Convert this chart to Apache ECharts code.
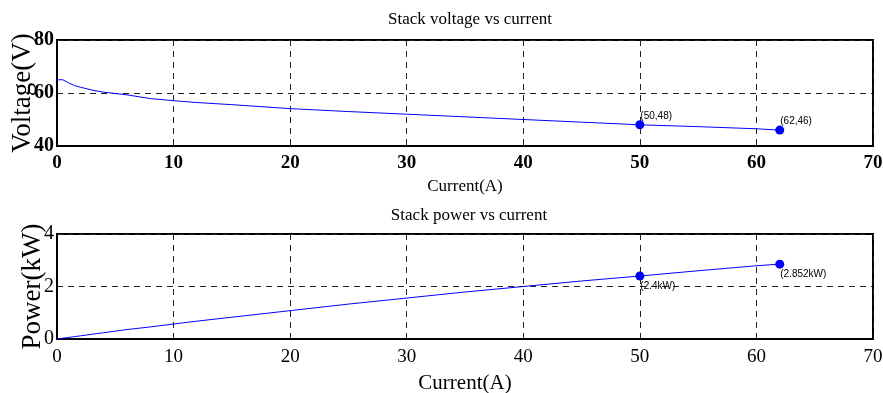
<!DOCTYPE html>
<html>
<head>
<meta charset="utf-8">
<script src="https://cdn.jsdelivr.net/npm/echarts@6/dist/echarts.min.js"></script>
<style>
  html, body { margin: 0; padding: 0; background: #fff; }
  #chart { width: 883px; height: 393px; }
</style>
</head>
<body>
<div id="chart"></div>
<script>
  // values
  var current = [0, 0.5, 1, 1.5, 2, 3, 4, 5, 6, 8, 10, 12, 15, 20, 25, 30, 35, 40, 45, 50, 55, 60, 62];
  var voltage = [65, 65, 63.8, 62.8, 62.2, 61.1, 60.3, 59.8, 59.3, 57.9, 57.1, 56.4, 55.6, 54.1, 53, 52, 51, 50, 49, 48, 47.3, 46.5, 46];
  var power = [0, 0.03, 0.06, 0.09, 0.12, 0.18, 0.24, 0.30, 0.36, 0.46, 0.57, 0.68, 0.83, 1.08, 1.33, 1.56, 1.79, 2.0, 2.21, 2.4, 2.6, 2.79, 2.852];
  var voltageMarks = [[50, 48, '(50,48)'], [62, 46, '(62,46)']];
  var powerMarks = [[50, 2.4, '(2.4kW)'], [62, 2.852, '(2.852kW)']];

  var serif = '"Liberation Serif", "Times New Roman", serif';
  var dashed = { show: true, lineStyle: { color: '#222', type: [6, 5], width: 1 } };

  function pairs(xs, ys) {
    return xs.map(function(x, i) { return [x, ys[i]]; });
  }

  function xAxis(idx, bold, nameSize, nameGap, margin) {
    return {
      gridIndex: idx, type: 'value', min: 0, max: 70, interval: 10,
      name: 'Current(A)', nameLocation: 'middle', nameGap: nameGap, nameMoveOverlap: false,
      nameTextStyle: { fontFamily: serif, fontSize: nameSize, color: '#000' },
      axisLine: { lineStyle: { color: '#000', width: 2 } },
      axisTick: { show: false },
      axisLabel: { fontFamily: serif, fontSize: 19, fontWeight: bold ? 'bold' : 'normal', color: '#000', margin: margin },
      splitLine: dashed
    };
  }

  function yAxis(idx, name, min, max, interval, bold, gap) {
    return {
      gridIndex: idx, type: 'value', min: min, max: max, interval: interval,
      name: name, nameLocation: 'middle', nameGap: gap, nameMoveOverlap: false,
      nameTextStyle: { fontFamily: serif, fontSize: 27, color: '#000' },
      axisLine: { lineStyle: { color: '#000', width: 2 } },
      axisTick: { show: false },
      axisLabel: { fontFamily: serif, fontSize: 20, fontWeight: bold ? 'bold' : 'normal', color: '#000', margin: 3 },
      splitLine: dashed
    };
  }

  function markSeries(idx, marks, dy) {
    return {
      type: 'scatter', xAxisIndex: idx, yAxisIndex: idx,
      symbolSize: 9, itemStyle: { color: '#0000ff', opacity: 1 },
      data: marks.map(function(m) { return { value: [m[0], m[1]], name: m[2] }; }),
      label: {
        show: true, position: [5, dy], align: 'left', verticalAlign: 'top',
        formatter: function(p) { return p.name; },
        fontFamily: '"Liberation Sans", Arial, sans-serif', fontSize: 10, color: '#000'
      }
    };
  }

  var option = {
    animation: false,
    backgroundColor: '#fff',
    title: [
      { text: 'Stack voltage vs current', left: 465, top: 6, textAlign: 'center',
        textStyle: { fontFamily: serif, fontSize: 17, fontWeight: 'normal', color: '#000' } },
      { text: 'Stack power vs current', left: 464, top: 202, textAlign: 'center',
        textStyle: { fontFamily: serif, fontSize: 17, fontWeight: 'normal', color: '#000' } }
    ],
    grid: [
      { left: 57, right: 10, top: 40, height: 106, show: true, borderColor: '#000', borderWidth: 2, outerBoundsMode: 'none' },
      { left: 57, right: 10, top: 234, height: 105, show: true, borderColor: '#000', borderWidth: 2, outerBoundsMode: 'none' }
    ],
    xAxis: [xAxis(0, true, 17, 32, 8), xAxis(1, false, 21, 34, 9)],
    yAxis: [yAxis(0, 'Voltage(V)', 40, 80, 20, true, 21), yAxis(1, 'Power(kW)', 0, 4, 2, false, 11)],
    series: [
      { type: 'line', xAxisIndex: 0, yAxisIndex: 0, data: pairs(current, voltage),
        showSymbol: false, lineStyle: { color: '#0000ff', width: 1 } },
      { type: 'line', xAxisIndex: 1, yAxisIndex: 1, data: pairs(current, power),
        showSymbol: false, lineStyle: { color: '#0000ff', width: 1 } },
      markSeries(0, voltageMarks, -9),
      markSeries(1, powerMarks, 10)
    ]
  };

  echarts.init(document.getElementById('chart')).setOption(option);
</script>
</body>
</html>
